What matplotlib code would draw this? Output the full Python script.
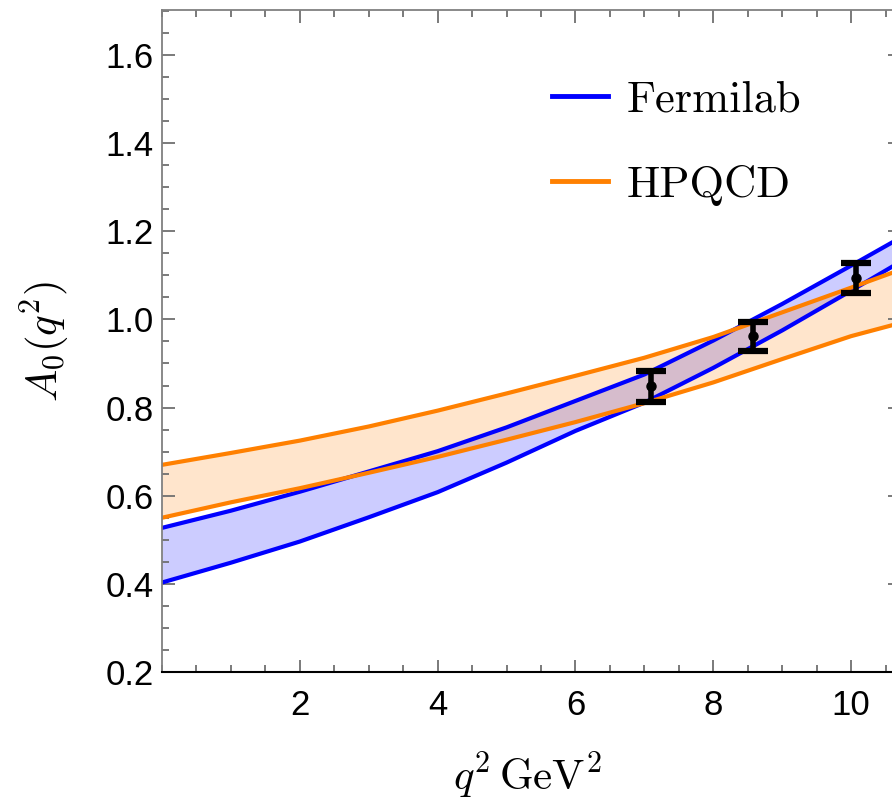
import matplotlib
matplotlib.use("Agg")
import matplotlib.pyplot as plt
from matplotlib.ticker import MultipleLocator, FixedLocator

plt.rcParams['mathtext.fontset'] = 'cm'
plt.rcParams['font.family'] = ['Liberation Sans', 'DejaVu Sans']

# q^2 sample points (GeV^2)
q2 = [0, 1, 2, 3, 4, 5, 6, 7, 8, 9, 10, 10.6]
fermilab_upper = [0.527, 0.566, 0.609, 0.655, 0.701, 0.755, 0.815, 0.875, 0.952, 1.035, 1.122, 1.175]
fermilab_lower = [0.403, 0.448, 0.496, 0.551, 0.608, 0.675, 0.747, 0.811, 0.890, 0.975, 1.065, 1.120]
hpqcd_upper = [0.670, 0.697, 0.725, 0.757, 0.793, 0.832, 0.872, 0.913, 0.960, 1.016, 1.072, 1.106]
hpqcd_lower = [0.550, 0.585, 0.617, 0.652, 0.688, 0.727, 0.767, 0.810, 0.857, 0.910, 0.962, 0.987]

pts_x = [7.09, 8.58, 10.07]
pts_y = [0.848, 0.962, 1.093]
pts_err = [0.036, 0.033, 0.034]

xticks = [2, 4, 6, 8, 10]
yticks = [0.2, 0.4, 0.6, 0.8, 1.0, 1.2, 1.4, 1.6]

W, H = 892, 808
fig = plt.figure(figsize=(W/100, H/100), dpi=100)
left, right, top, bottom = 162, 900, 10, 672
ax = fig.add_axes([left/W, 1-bottom/H, (right-left)/W, (bottom-top)/H])

blue = '#0000ff'
orange = '#ff8000'

ax.fill_between(q2, fermilab_lower, fermilab_upper, color=blue, alpha=0.2, lw=0)
ax.fill_between(q2, hpqcd_lower, hpqcd_upper, color=orange, alpha=0.2, lw=0)
ax.plot(q2, fermilab_upper, color=blue, lw=3, label='Fermilab', solid_joinstyle='round')
ax.plot(q2, fermilab_lower, color=blue, lw=3, solid_joinstyle='round')
ax.plot(q2, hpqcd_upper, color=orange, lw=3, label='HPQCD', solid_joinstyle='round')
ax.plot(q2, hpqcd_lower, color=orange, lw=3, solid_joinstyle='round')

ax.errorbar(pts_x, pts_y, yerr=pts_err, fmt='o', color='black', ms=6.5,
            elinewidth=4, capsize=11, capthick=4.5, zorder=5)

ax.set_xlim(0, 10.71)
ax.set_ylim(0.2, 1.702)
ax.xaxis.set_major_locator(FixedLocator(xticks))
ax.yaxis.set_major_locator(FixedLocator(yticks))
ax.xaxis.set_minor_locator(MultipleLocator(0.5))
ax.yaxis.set_minor_locator(MultipleLocator(0.05))
ax.set_yticklabels([f"{v:.1f}" for v in yticks])
ax.set_xticklabels([str(v) for v in xticks])

ax.tick_params(which='both', direction='in', top=True, right=True, color='#707070', width=1.3,
               labelsize=25, labelcolor='black')
ax.tick_params(which='major', length=9)
ax.tick_params(which='minor', length=5)
ax.tick_params(axis='x', pad=12)
ax.tick_params(axis='y', pad=6)
for s in ['left', 'top', 'right']:
    ax.spines[s].set_color('#808080')
    ax.spines[s].set_linewidth(1.3)
ax.spines['bottom'].set_color('black')
ax.spines['bottom'].set_linewidth(1.5)

xl = ax.set_xlabel(r'$q^2\,\mathrm{GeV}^2$', fontsize=31)
xl.set_va('center')
ax.xaxis.set_label_coords((527-left)/(right-left), -(776-bottom)/(bottom-top))
yl = ax.set_ylabel(r'$A_0(q^2)$', fontsize=31)
yl.set_va('center')
ax.yaxis.set_label_coords(-(162-45)/(right-left), 0.5)

leg = ax.legend(loc='upper left', bbox_to_anchor=(552/W, 1-80/H), bbox_transform=fig.transFigure,
                frameon=False, prop={'family': 'cmr10', 'size': 32}, handlelength=1.25,
                handletextpad=0.42, labelspacing=1.0, borderpad=0, borderaxespad=0)
for l in leg.get_lines():
    l.set_linewidth(3.5)

fig.savefig('out.png', dpi=100)
